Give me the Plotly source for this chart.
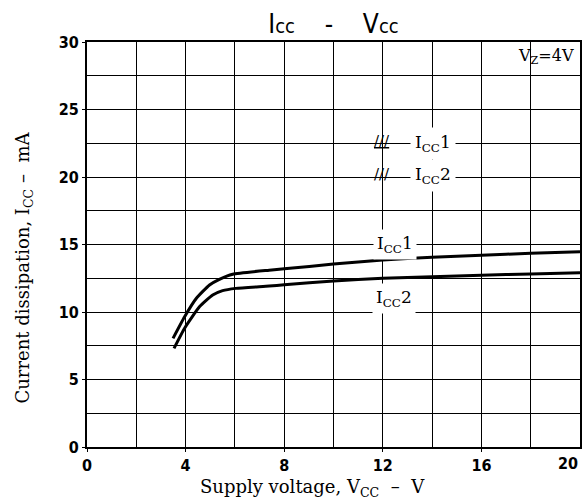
import plotly.graph_objects as go

# Data
vcc_1 = [3.49, 3.96, 4.43, 4.97, 5.37, 5.91, 7.39, 8, 10, 12, 14, 16, 18, 20]
icc_1 = [8.05, 9.65, 11.0, 12.0, 12.42, 12.8, 13.1, 13.2, 13.55, 13.85, 14.05, 14.2, 14.35, 14.47]
vcc_2 = [3.53, 3.96, 4.57, 5.1, 5.5, 6.04, 7.39, 8, 10, 12, 14, 16, 18, 20]
icc_2 = [7.31, 8.8, 10.4, 11.26, 11.58, 11.75, 11.92, 12.02, 12.3, 12.5, 12.62, 12.72, 12.82, 12.9]

x_ticks = [0, 4, 8, 12, 16]
x_last_tick = 20
y_ticks = [0, 5, 10, 15, 20, 25, 30]

serif = "DejaVu Serif, Liberation Serif, serif"
sans = "DejaVu Sans Condensed, DejaVu Sans, sans-serif"
tickfont = dict(family=sans, size=16, color="black", weight="bold")

fig = go.Figure()
fig.add_trace(go.Scatter(x=vcc_1, y=icc_1, mode="lines",
                         line=dict(color="black", width=3, shape="spline", smoothing=0.5),
                         showlegend=False, hoverinfo="skip"))
fig.add_trace(go.Scatter(x=vcc_2, y=icc_2, mode="lines",
                         line=dict(color="black", width=3, shape="spline", smoothing=0.5),
                         showlegend=False, hoverinfo="skip"))

# blank the grid in the V_Z box cell
fig.add_shape(type="rect", x0=14.08, x1=19.92, y0=27.58, y1=29.92,
              fillcolor="white", line=dict(width=0), layer="below")

fig.update_xaxes(range=[0, 20], tickvals=x_ticks, showgrid=True, gridcolor="black", gridwidth=1,
                 minor=dict(dtick=2, showgrid=True, gridcolor="black", gridwidth=1),
                 showline=True, linecolor="black", linewidth=2, mirror=True,
                 ticks="outside", ticklen=3, tickcolor="black", zeroline=False,
                 tickfont=tickfont)
fig.update_yaxes(range=[0, 30], tickvals=y_ticks, showgrid=True, gridcolor="black", gridwidth=1,
                 minor=dict(dtick=2.5, showgrid=True, gridcolor="black", gridwidth=1),
                 showline=True, linecolor="black", linewidth=2, mirror=True,
                 ticks="outside", ticklen=3, tickcolor="black", zeroline=False,
                 tickfont=tickfont)

# last x tick label, kept inside the window like in the reference
fig.add_annotation(xref="x", yref="y", x=x_last_tick, y=0, text=str(x_last_tick),
                   showarrow=False, xanchor="right", yanchor="middle", yshift=-16,
                   font=tickfont)

ann = [
    dict(x=12.5, y=15.0, text="I<sub>CC</sub>1", bgcolor="white", borderpad=3),
    dict(x=12.45, y=11.0, text="I<sub>CC</sub>2", bgcolor="white", borderpad=3),
    dict(x=14.05, y=22.5, text="I<sub>CC</sub>1", bgcolor="white", borderpad=4),
    dict(x=14.05, y=20.1, text="I<sub>CC</sub>2", bgcolor="white", borderpad=4),
    dict(x=11.95, y=22.65, text="<u>///</u>", font=dict(family=serif, size=15, color="black")),
    dict(x=11.95, y=20.25, text="///", font=dict(family=serif, size=15, color="black")),
]
for a in ann:
    a.setdefault("font", dict(family=serif, size=17, color="black"))
    fig.add_annotation(xref="x", yref="y", showarrow=False, xanchor="center", yanchor="middle", **a)

fig.add_annotation(xref="x", yref="y", x=19.85, y=28.95, text="V<sub>Z</sub>=4V",
                   showarrow=False, xanchor="right", yanchor="middle",
                   font=dict(family=serif, size=16, color="black"))

fig.add_annotation(xref="paper", yref="paper", x=-0.127, y=0.444, textangle=-90,
                   xanchor="center", yanchor="middle",
                   text="Current dissipation, I<sub>CC</sub> \u2013  mA", showarrow=False,
                   font=dict(family=serif, size=18, color="black"))
fig.add_annotation(xref="paper", yref="paper", x=0.457, y=-0.101,
                   xanchor="center", yanchor="middle",
                   text="Supply voltage, V<sub>CC</sub>  \u2013  V", showarrow=False,
                   font=dict(family=serif, size=18, color="black"))

nb = "\u00a0"
small = "<span style='font-size:20px'>cc</span>"
fig.update_layout(
    width=585, height=501,
    margin=dict(l=87, r=3, t=42, b=54),
    paper_bgcolor="white", plot_bgcolor="white",
    title=dict(text=f"I{small}{nb*4}-{nb*4}V{small}", x=0.5, xref="paper", xanchor="center",
               y=1 - 24 / 501, yanchor="middle", yref="container",
               font=dict(family=sans, size=26, color="black")),
)

# remove the browser's default 8px body margin so the 585x501 figure fills the window
fig.write_html("out.html", config={"displayModeBar": False},
               post_script="document.body.style.margin='0';document.body.style.overflow='hidden';")
